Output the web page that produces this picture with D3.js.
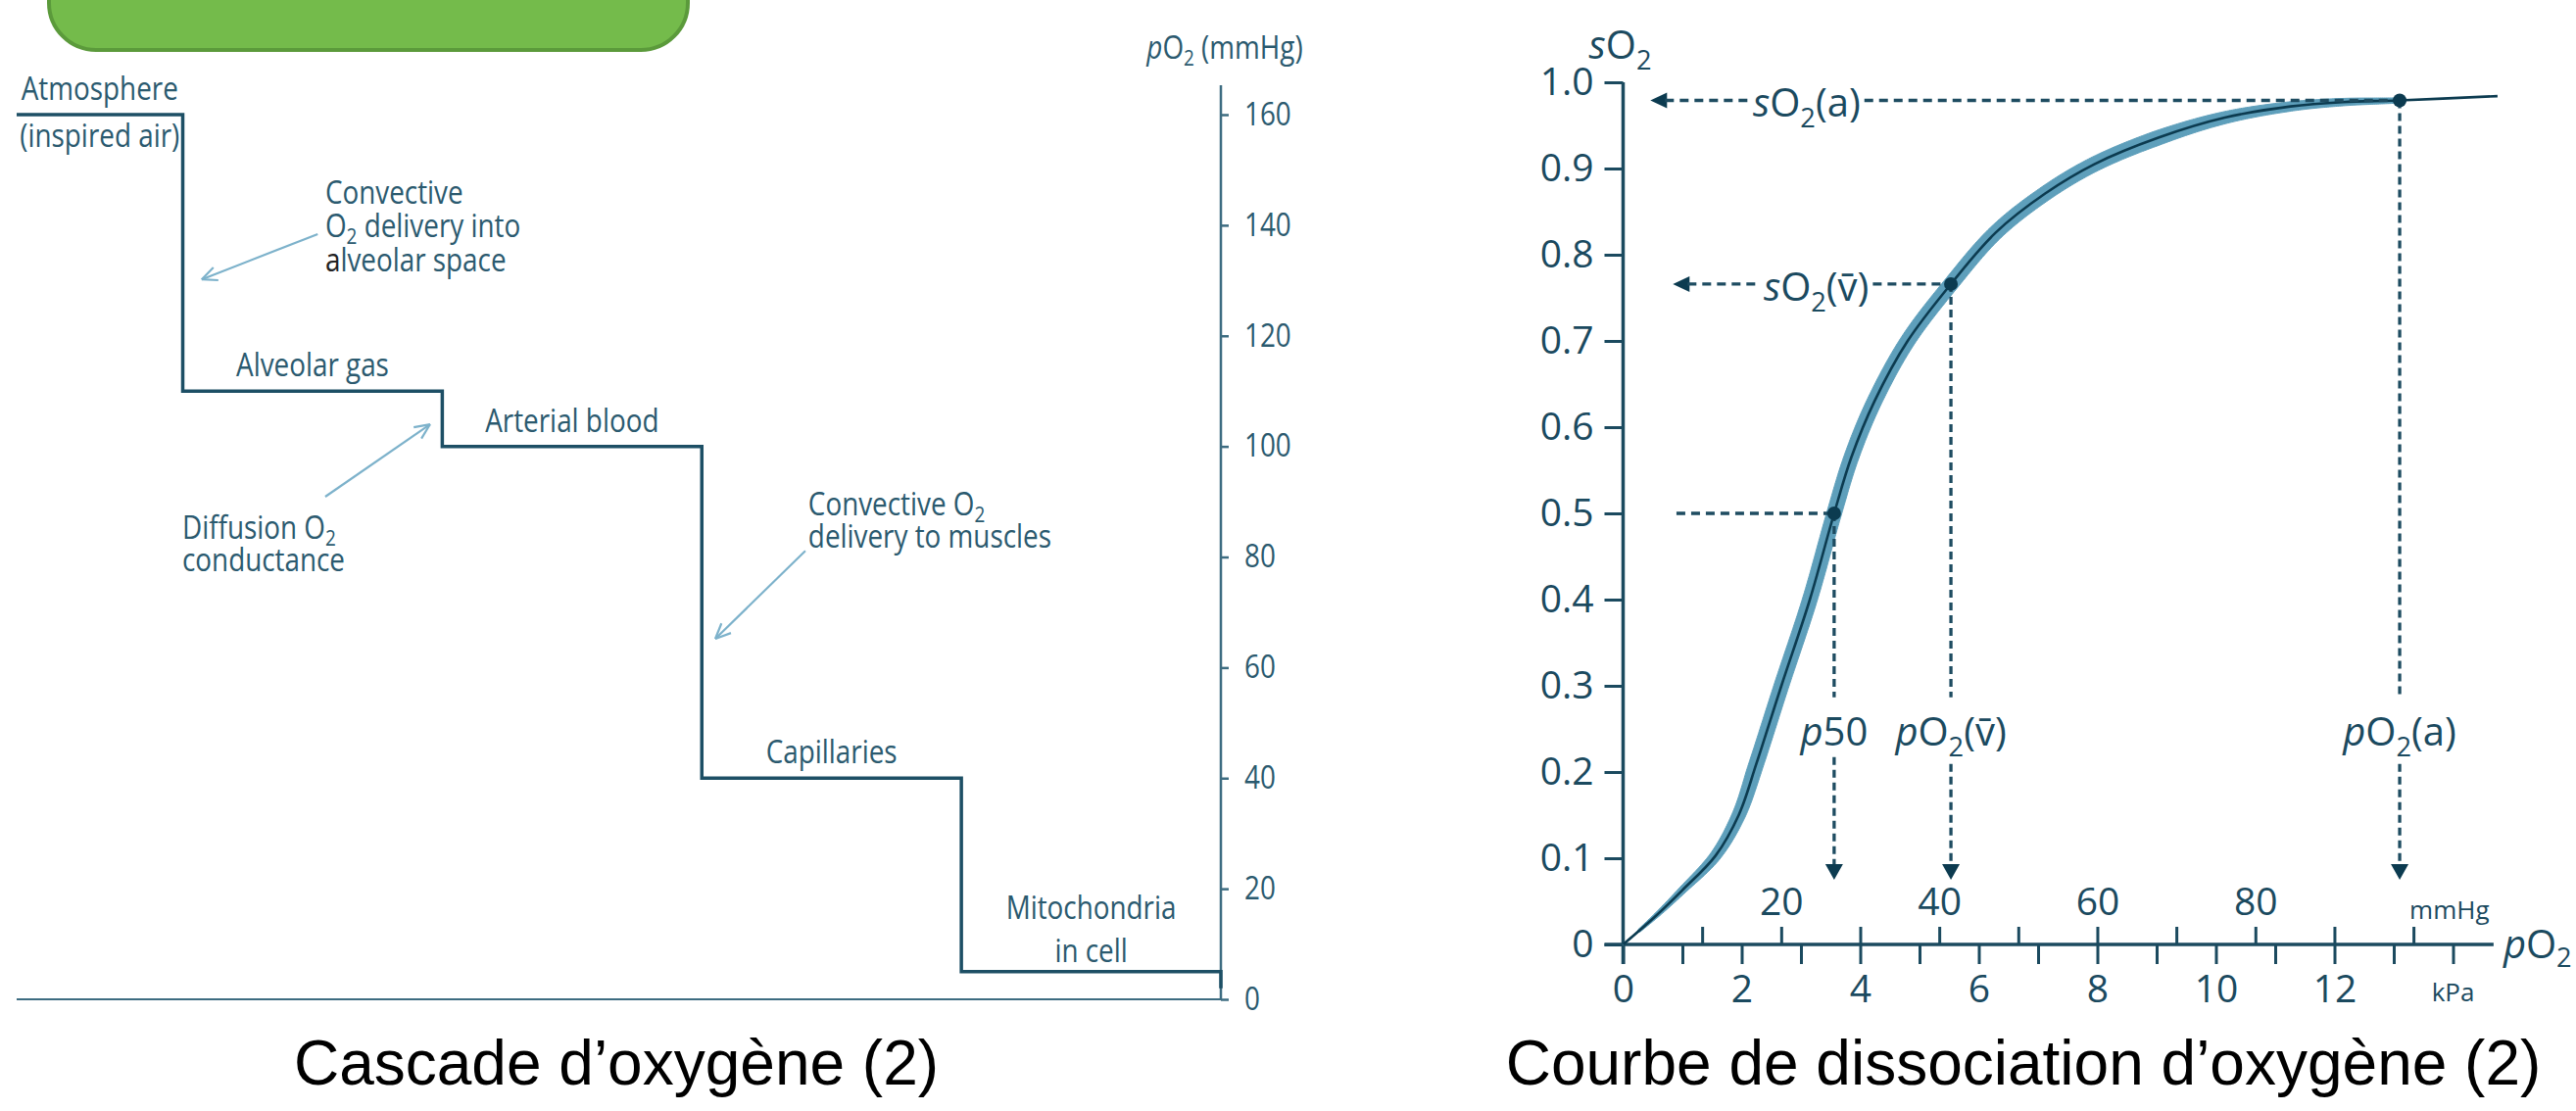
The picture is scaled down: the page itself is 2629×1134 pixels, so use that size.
<!DOCTYPE html>
<html>
<head>
<meta charset="utf-8">
<script src="https://cdn.jsdelivr.net/npm/d3@7"></script>
<style>
  html, body { margin: 0; padding: 0; background: #fff; }
  svg { display: block; }
  text { font-family: "Open Sans", "Noto Sans", sans-serif; }
  .caption { font-family: "Liberation Sans", Arial, sans-serif; font-size: 64px; fill: #000; }
</style>
</head>
<body>
<svg id="chart" width="2629" height="1134"></svg>
<script>
// ---------- data: oxygen cascade (left) ----------
const stageLabels = [["Atmosphere"], ["Alveolar gas"], ["Arterial blood"], ["Capillaries"], ["Mitochondria", "in cell"]];
const stageNotes = ["(inspired air)", "", "", "", ""];
const stagePO2 = [160, 110, 100, 40, 5];
const stageWidths = [0.64, 1, 1, 1, 1];
const cascadeTicks = [0, 20, 40, 60, 80, 100, 120, 140, 160];

// process notes: text lines, text anchor (stage units, mmHg), arrow from/to (stage units, mmHg)
const noteLines = [
  ["Convective", "O{s:2} delivery into", "{b:a}lveolar space"],
  ["Diffusion O{s:2}", "conductance"],
  ["Convective O{s:2}", "delivery to muscles"]
];
const noteAnchor = [[1.189, 143.9], [0.638, 83.3], [3.05, 87.5]];
const noteArrowFrom = [[1.16, 138.4], [1.189, 90.9], [3.039, 81.1]];
const noteArrowTo = [[0.713, 130.2], [1.593, 104.0], [2.692, 65.2]];

// ---------- data: dissociation curve (right) ----------
const curveKPa = [0, 0.55, 1.0, 1.56, 1.95, 2.25, 2.67, 3.15, 3.56, 3.85, 4.24, 4.8, 5.53, 6.29, 7.12, 7.95, 9.04, 10.15, 11.26, 12.14, 13.1, 14.75];
const curveSO2 = [0, 0.033, 0.063, 0.103, 0.15, 0.21, 0.30, 0.40, 0.50, 0.565, 0.63, 0.70, 0.766, 0.826, 0.871, 0.905, 0.936, 0.959, 0.972, 0.977, 0.979, 0.984];

const sO2Ticks = [0, 0.1, 0.2, 0.3, 0.4, 0.5, 0.6, 0.7, 0.8, 0.9, 1.0];
const kPaTicks = [0, 1, 2, 3, 4, 5, 6, 7, 8, 9, 10, 11, 12, 13, 14];
const kPaLabels = [0, 2, 4, 6, 8, 10, 12];
const mmHgTicks = [10, 20, 30, 40, 50, 60, 70, 80, 90, 100];
const mmHgLabels = [20, 40, 60, 80];

// reference points: arterial, mixed venous, p50
const refKPa = [13.1, 5.53, 3.56];
const refSO2 = [0.979, 0.766, 0.5];
const refHLabel = ["{i:s}O{s:2}(a)", "{i:s}O{s:2}(v\u0304)", null];
const refVLabel = ["{i:p}O{s:2}(a)", "{i:p}O{s:2}(v\u0304)", "{i:p}50"];
const refHStart = [0.46, 0.84, 0.9];     // kPa where the horizontal guide stops
const refHArrow = [true, true, false];
const refHLabelAt = [2.19, 2.37, null];  // kPa where the label starts
const vArrowTip = 0.075;                 // sO2 level of the down arrows
const vLabelAt = 0.231;                  // sO2 level of the labels' baseline

// ---------- helpers ----------
const svg = d3.select("#chart");
const ink = "#1d4f65", inkText = "#2b5a6f", axisInk = "#3d6c81", arrowBlue = "#7db2cb";
const rInk = "#1b4a5f";
const cond = 0.87;

// tiny markup: {i:x} italic, {s:x} subscript, {b:x} dark ; several lines go in one text
function rich(sel, lines, size, subDy, lh, x0) {
  if (!Array.isArray(lines)) lines = [lines];
  let shift = 0;
  lines.forEach((str, j) => {
    const re = /\{([isb]):([^}]*)\}|([^{]+)/g;
    let m, first = true;
    while ((m = re.exec(str)) !== null) {
      const kind = m[1] || "n";
      const t = sel.append("tspan").text(m[1] ? m[2] : m[3]);
      if (kind === "i") t.attr("font-style", "italic");
      if (kind === "b") t.attr("fill", "#222");
      if (kind === "s") t.attr("font-size", size * 0.68);
      const target = kind === "s" ? subDy : 0;
      let dy = target - shift;
      if (first && j > 0) { t.attr("x", x0); dy += lh; }
      if (dy) t.attr("dy", dy);
      shift = target;
      first = false;
    }
  });
  return sel;
}

function condLabel(g, px, py, lines, anchor, lh) {
  const t = g.append("text")
    .attr("transform", `translate(${px},${py}) scale(${cond},1)`)
    .attr("text-anchor", anchor)
    .attr("font-size", 32)
    .attr("fill", inkText);
  return rich(t, lines, 32, 7, lh || 34, 0);
}

function openArrow(g, x1, y1, x2, y2) {
  g.append("line").attr("x1", x1).attr("y1", y1).attr("x2", x2).attr("y2", y2);
  const a = Math.atan2(y1 - y2, x1 - x2);
  [-0.42, 0.42].forEach(da => {
    g.append("line").attr("x1", x2).attr("y1", y2)
      .attr("x2", x2 + 17 * Math.cos(a + da)).attr("y2", y2 + 17 * Math.sin(a + da));
  });
}

// ---------- left: cascade ----------
function drawCascade() {
  const g = svg.append("g");
  const edges = [0, ...d3.cumsum(stageWidths)];
  const xS = d3.scaleLinear().domain([0, d3.sum(stageWidths)]).range([17, 1246]);
  const yP = d3.scaleLinear().domain([0, 160]).range([1020, 117]);

  // title box
  g.append("rect")
    .attr("x", 50).attr("y", -60).attr("width", 652).attr("height", 111).attr("rx", 48)
    .attr("fill", "#74bb4b").attr("stroke", "#5b9a3b").attr("stroke-width", 4);

  // baseline
  g.append("line")
    .attr("x1", xS(0)).attr("x2", xS.range()[1])
    .attr("y1", yP(0)).attr("y2", yP(0))
    .attr("stroke", axisInk).attr("stroke-width", 2);

  // right axis
  const gA = g.append("g").attr("transform", `translate(${xS.range()[1]},0)`);
  gA.append("line").attr("y1", yP(160) - 30).attr("y2", yP(0))
    .attr("stroke", axisInk).attr("stroke-width", 2.5);
  gA.call(d3.axisRight(yP).tickValues(cascadeTicks).tickSize(8).tickPadding(16).tickSizeOuter(0));
  gA.select(".domain").remove();
  gA.selectAll(".tick line").attr("stroke", axisInk).attr("stroke-width", 2.5);
  gA.selectAll(".tick text")
    .attr("x", null)
    .attr("transform", `translate(24,0) scale(${cond},1)`)
    .attr("font-size", 32).attr("font-family", null).attr("fill", inkText);

  condLabel(g, xS.range()[1] + 4, 60, "{i:p}O{s:2} (mmHg)", "middle");

  // step line
  const pts = [];
  stagePO2.forEach((v, i) => { pts.push([edges[i], v], [edges[i + 1], v]); });
  pts.push([edges[edges.length - 1], 2]);
  g.append("path")
    .attr("d", d3.line().x(d => xS(d[0])).y(d => yP(d[1]))(pts))
    .attr("fill", "none").attr("stroke", ink).attr("stroke-width", 3.5)
    .attr("stroke-linejoin", "miter");

  // stage labels
  stageLabels.forEach((lines, i) => {
    const cx = xS((edges[i] + edges[i + 1]) / 2);
    const base = yP(stagePO2[i]);
    const top = lines.length === 1 ? -15 : -54;
    condLabel(g, cx, base + top, lines, "middle", 44);
    if (stageNotes[i]) condLabel(g, cx, base + 33, stageNotes[i], "middle");
  });

  // process notes with arrows
  const gArr = g.append("g").attr("stroke", arrowBlue).attr("stroke-width", 2.2).attr("fill", "none");
  noteLines.forEach((lines, i) => {
    const lh = i === 0 ? 34.5 : 33;
    condLabel(g, xS(noteAnchor[i][0]), yP(noteAnchor[i][1]), lines, "start", lh);
    openArrow(gArr, xS(noteArrowFrom[i][0]), yP(noteArrowFrom[i][1]),
      xS(noteArrowTo[i][0]), yP(noteArrowTo[i][1]));
  });

  g.append("text").attr("class", "caption")
    .attr("x", 629).attr("y", 1107).attr("text-anchor", "middle")
    .text("Cascade d\u2019oxyg\u00e8ne (2)");
}

// ---------- right: dissociation curve ----------
function drawCurve() {
  const g = svg.append("g");
  const x = d3.scaleLinear().domain([0, 14.75]).range([1656.5, 1656.5 + 14.75 * 60.5]);
  const y = d3.scaleLinear().domain([0, 1]).range([964, 84]);
  const xMM = d3.scaleLinear().domain(x.domain().map(d => d * 7.50062)).range(x.range());
  const F = 39;

  // axes
  const gY = g.append("g").attr("transform", `translate(${x(0)},0)`);
  gY.append("line").attr("y1", y(1)).attr("y2", y(0) + 20)
    .attr("stroke", rInk).attr("stroke-width", 3.5);
  gY.call(d3.axisLeft(y).tickValues(sO2Ticks).tickSize(19).tickPadding(11).tickSizeOuter(0)
    .tickFormat(d => d === 0 ? "0" : d3.format(".1f")(d)));

  const gX = g.append("g").attr("transform", `translate(0,${y(0)})`);
  gX.append("line").attr("x1", x(0) - 19).attr("x2", x(14.75) - 4)
    .attr("stroke", rInk).attr("stroke-width", 3.5);
  gX.append("g").call(d3.axisBottom(x).tickValues(kPaTicks).tickSize(20).tickPadding(11).tickSizeOuter(0)
    .tickFormat(d => kPaLabels.includes(d) ? d : ""));
  gX.append("g").call(d3.axisTop(xMM).tickValues(mmHgTicks).tickSize(18).tickPadding(12).tickSizeOuter(0)
    .tickFormat(d => mmHgLabels.includes(d) ? d : ""));

  g.selectAll(".domain").remove();
  g.selectAll(".tick line").attr("stroke", rInk).attr("stroke-width", 3);
  g.selectAll(".tick text").attr("font-size", F).attr("font-family", null).attr("fill", rInk);

  gX.append("text").attr("x", x(14)).attr("y", 58).attr("text-anchor", "middle")
    .attr("font-size", 26).attr("fill", rInk).text("kPa");
  gX.append("text").attr("x", xMM(100) - 4).attr("y", -26).attr("text-anchor", "start")
    .attr("font-size", 26).attr("fill", rInk).text("mmHg");

  rich(g.append("text").attr("x", x(14.75) + 6).attr("y", y(0) + 14)
    .attr("font-size", F + 1).attr("fill", rInk), "{i:p}O{s:2}", F + 1, 9);
  rich(g.append("text").attr("x", x(0) - 35).attr("y", y(1) - 24)
    .attr("font-size", F + 1).attr("fill", rInk), "{i:s}O{s:2}", F + 1, 11);

  // curve: band + centre line
  const gBand = g.append("g");
  const line = d3.line().x((d, i) => x(curveKPa[i])).y(d => y(d)).curve(d3.curveCatmullRom.alpha(0.5));
  const centre = g.append("path").attr("d", line(curveSO2))
    .attr("fill", "none").attr("stroke", "#0c3b50").attr("stroke-width", 2.6);

  const node = centre.node();
  const L = node.getTotalLength();
  const N = 700;
  const samples = d3.range(N + 1).map(i => node.getPointAtLength(L * i / N));
  const bandW = k => {
    if (k < 0.25) return 1;
    if (k < 2.2) return 3 + 12 * (k - 0.25) / 1.95;
    if (k < 9) return 15;
    if (k < 13.2) return 15 - 10 * (k - 9) / 4.2;
    return 0;
  };
  const sideA = [], sideB = [];
  samples.forEach((p, i) => {
    const a = samples[Math.max(0, i - 1)], b = samples[Math.min(N, i + 1)];
    const dx = b.x - a.x, dy = b.y - a.y, len = Math.hypot(dx, dy) || 1;
    const nx = -dy / len, ny = dx / len;
    const w = bandW(x.invert(p.x)) / 2;
    sideA.push([p.x + nx * w, p.y + ny * w]);
    sideB.push([p.x - nx * w, p.y - ny * w]);
  });
  gBand.append("path")
    .attr("d", d3.line()([...sideA, ...sideB.reverse()]) + "Z")
    .attr("fill", "#5e9fbb").attr("stroke", "#5e9fbb").attr("stroke-width", 1);

  // guides
  const gG = g.append("g");
  const dashed = (x1, y1, x2, y2, dash) => gG.append("line")
    .attr("x1", x1).attr("y1", y1).attr("x2", x2).attr("y2", y2)
    .attr("stroke", "#1e4c61").attr("stroke-width", 3.3).attr("stroke-dasharray", dash);

  refKPa.forEach((k, i) => {
    const px = x(k), py = y(refSO2[i]);
    // horizontal
    const hx = x(refHStart[i]);
    const start = refHArrow[i] ? hx + 15 : hx;
    if (refHArrow[i]) {
      gG.append("path")
        .attr("d", `M${hx},${py}L${hx + 17},${py - 8}L${hx + 17},${py + 8}Z`)
        .attr("fill", "#0c3b50");
    }
    if (refHLabel[i]) {
      const t = rich(gG.append("text").attr("x", x(refHLabelAt[i])).attr("y", py + 17)
        .attr("font-size", 40).attr("fill", rInk), refHLabel[i], 40, 11);
      const bb = t.node().getBBox();
      dashed(start, py, bb.x - 3, py, "9,6");
      dashed(bb.x + bb.width + 4, py, px, py, "9,6");
    } else {
      dashed(start, py, px, py, "9,6");
    }
    // vertical
    const t = rich(gG.append("text").attr("x", px).attr("y", y(vLabelAt))
      .attr("text-anchor", "middle").attr("font-size", 40).attr("fill", rInk), refVLabel[i], 40, 11);
    const bb = t.node().getBBox();
    const tip = y(vArrowTip);
    dashed(px, py, px, bb.y - 6, "8,5");
    dashed(px, bb.y + bb.height, px, tip - 12, "8,5");
    gG.append("path")
      .attr("d", `M${px},${tip}L${px - 9},${tip - 16}L${px + 9},${tip - 16}Z`)
      .attr("fill", "#0c3b50");
    gG.append("circle").attr("cx", px).attr("cy", py).attr("r", 7).attr("fill", "#0c3b50");
  });

  g.append("text").attr("class", "caption")
    .attr("x", 2065).attr("y", 1107).attr("text-anchor", "middle")
    .text("Courbe de dissociation d\u2019oxyg\u00e8ne (2)");
}

drawCascade();
drawCurve();
</script>
</body>
</html>
